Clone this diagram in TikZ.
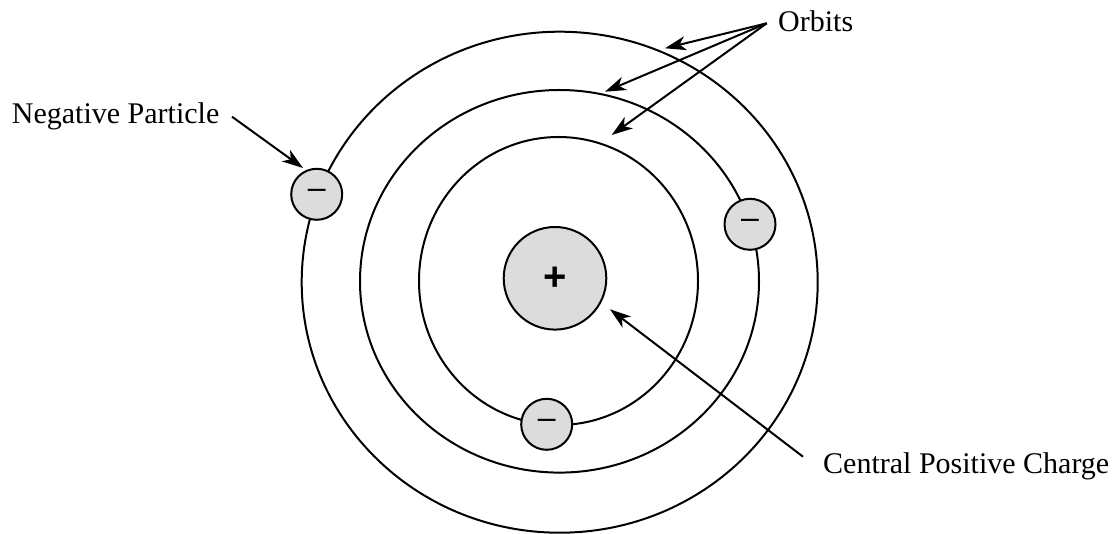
\documentclass[tikz,border=0pt]{standalone}
\usepackage{fontspec}
\setmainfont{Liberation Serif}
\newfontfamily\symfont{Liberation Sans}
\usetikzlibrary{arrows.meta}
\definecolor{partgray}{HTML}{DCDCDC}
\begin{document}
\begin{tikzpicture}[x=1pt,y=-1pt,
  orbit/.style={line width=2pt},
  particle/.style={circle,draw,line width=2pt,fill=partgray,inner sep=0pt,minimum size=51pt},
  lbl/.style={font=\fontsize{30}{36}\selectfont,anchor=base west,inner sep=0pt},
  pointer/.style={line width=2pt,-{Stealth[length=21pt,width=14pt,inset=6pt]}},
  minus/.style={font=\symfont\fontsize{32}{32}\selectfont},
  plus/.style={font=\symfont\bfseries\fontsize{40}{40}\selectfont}]
\useasboundingbox (0,0) rectangle (1120,534);
% orbits
\draw[orbit] (559.7,282.2) ellipse [x radius=258, y radius=250.5];
\draw[orbit] (559.5,281.3) ellipse [x radius=199.5, y radius=191.3];
\draw[orbit] (558.5,281) ellipse [x radius=139.5, y radius=144];
% nucleus and electrons
\node[particle,minimum size=102.6pt,plus] (nuc) at (555,278.3) {+};
\node[particle,minus] (e1) at (316.7,194.3) {–};
\node[particle,minus] (e2) at (750,224.3) {–};
\node[particle,minus] (e3) at (546.7,424.3) {–};
% labels
\node[lbl] (np) at (11.7,123.3) {Negative Particle};
\node[lbl] (orb) at (778,31.7) {Orbits};
\node[lbl] (cpc) at (823,474) {Central Positive Charge};
% pointer ends
\coordinate (npS) at (232,116.7);
\coordinate (npT) at (303,168);
\coordinate (orS) at (766.7,23.3);
\coordinate (o1) at (665,48.3);
\coordinate (o2) at (605,91.7);
\coordinate (o3) at (611.7,135);
\coordinate (cpS) at (803,456.7);
\coordinate (cpT) at (610,309.3);
\draw[pointer] (npS) -- (npT);
\draw[pointer] (orS) -- (o1);
\draw[pointer] (orS) -- (o2);
\draw[pointer] (orS) -- (o3);
\draw[pointer] (cpS) -- (cpT);
\end{tikzpicture}
\end{document}
